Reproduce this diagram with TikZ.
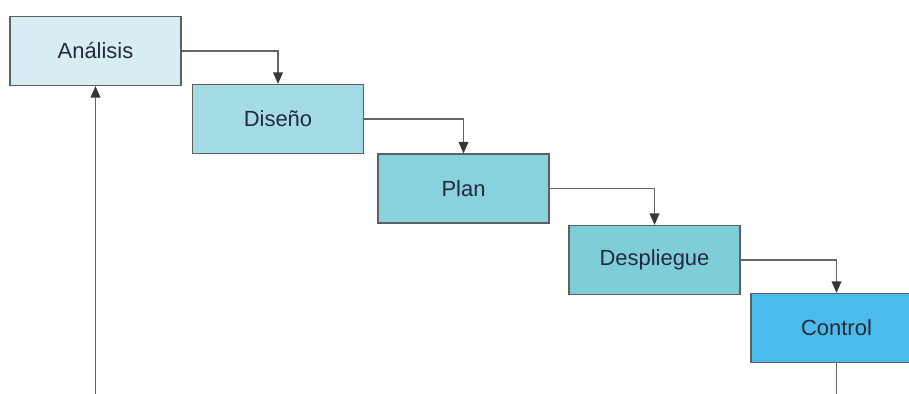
\documentclass[tikz,border=0pt]{standalone}
\usepackage{fontspec}
\setmainfont{Liberation Sans}
\usetikzlibrary{arrows.meta}
\definecolor{lineagris}{RGB}{100,100,100}
\definecolor{bordegris}{RGB}{95,95,95}
\definecolor{puntagris}{RGB}{55,55,55}
\definecolor{textofase}{RGB}{40,40,60}
\definecolor{faseA}{RGB}{214,238,243}
\definecolor{faseB}{RGB}{164,220,229}
\definecolor{faseC}{RGB}{135,210,220}
\definecolor{faseD}{RGB}{125,206,216}
\definecolor{faseE}{RGB}{75,188,234}
\begin{document}
\begin{tikzpicture}[x=0.02cm,y=-0.02cm,
  fase/.style={draw=bordegris, line width=0.7pt, rectangle, minimum width=3.42cm, minimum height=1.38cm, text=textofase, font=\fontsize{12.5}{15}\selectfont},
  flecha/.style={draw=lineagris, line width=0.75pt, -{Triangle[length=6.5pt,width=5.5pt,color=puntagris]}}]
\useasboundingbox (0,0) rectangle (909,394);
\clip (0,0) rectangle (909,394);

\node[fase, fill=faseA] (ana) at (95.5,51) {Análisis};
\node[fase, fill=faseB] (dis) at (278,119) {Diseño};
\node[fase, fill=faseC] (pla) at (463.5,188.5) {Plan};
\node[fase, fill=faseD] (des) at (654.5,260) {Despliegue};
\node[fase, fill=faseE] (con) at (836.5,328) {Control};

\coordinate (ini) at (95.5,396);
\coordinate (fin) at (836.5,396);

\draw[flecha] (ana.east) -| (dis.north);
\draw[flecha] (dis.east) -| (pla.north);
\draw[flecha] (pla.east) -| (des.north);
\draw[flecha] (des.east) -| (con.north);
\draw[draw=lineagris, line width=0.75pt] (con.south) -- (fin);
\draw[flecha] (ini) -- (ana.south);
\end{tikzpicture}
\end{document}
